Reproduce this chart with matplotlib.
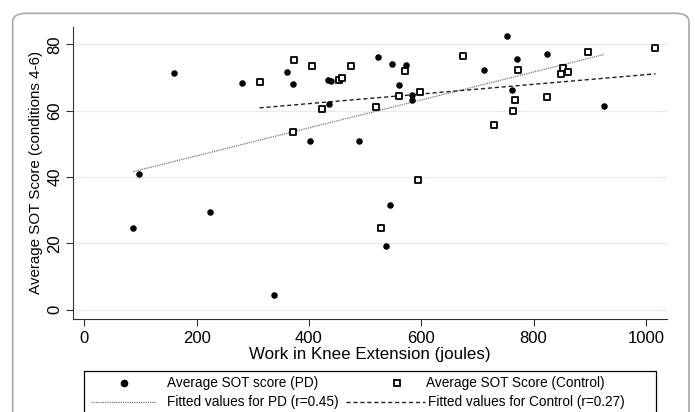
import numpy as np
import matplotlib
matplotlib.use("Agg")
import matplotlib.pyplot as plt
from matplotlib.patches import FancyBboxPatch, Rectangle
from matplotlib.lines import Line2D

plt.rcParams["font.family"] = ["Liberation Sans", "DejaVu Sans"]

# ------------------------------------------------------------
# Data
# ------------------------------------------------------------
pd_work = [87, 97, 159, 224, 281, 338, 361, 371, 402, 434, 440, 436,
           523, 547, 573, 560, 583, 584, 490, 544, 537, 712, 752, 771,
           761, 824, 925]
pd_sot = [24.6, 40.9, 71.3, 29.5, 68.3, 4.3, 71.7, 68.0, 50.9, 69.2, 68.9, 61.9,
          76.3, 74.2, 73.8, 67.8, 64.7, 63.2, 50.8, 31.6, 19.3, 72.1, 82.4, 75.5,
          66.1, 77.0, 61.3]

ctrl_work = [312, 374, 405, 372, 424, 453, 458, 474, 519, 528, 571, 560,
             597, 595, 675, 729, 773, 766, 764, 823, 852, 849, 861, 896, 1017]
ctrl_sot = [68.6, 75.2, 73.6, 53.7, 60.5, 69.2, 69.8, 73.6, 61.1, 24.6, 71.8, 64.3,
            65.6, 39.0, 76.5, 55.8, 72.3, 63.3, 60.0, 64.2, 73.0, 70.9, 71.7, 77.8, 79.0]

x_ticks = [0, 200, 400, 600, 800, 1000]
y_ticks = [0, 20, 40, 60, 80]

label_pd = "Average SOT score (PD)"
label_ctrl = "Average SOT Score (Control)"
label_fit_pd = "Fitted values for PD (r=0.45)"
label_fit_ctrl = "Fitted values for Control (r=0.27)"

PD_FIT_STYLE = dict(color="#777777", linewidth=0.9, linestyle=(0, (1, 0.8)))
CTRL_FIT_STYLE = dict(color="#222222", linewidth=1.0, linestyle=(0, (3, 2)))


def fitted(x, y):
    x = np.asarray(x, dtype=float)
    b, a = np.polyfit(x, np.asarray(y, dtype=float), 1)
    xs = np.array([x.min(), x.max()])
    return xs, a + b * xs


W, H = 695, 412
fig = plt.figure(figsize=(W / 100, H / 100), dpi=100)


def fx(x):
    return x / W


def fy(y):
    return 1 - y / H


# outer rounded frame
frame = FancyBboxPatch((fx(12.7), -0.05), fx(689 - 12.7), (H - 13.3) / H + 0.05,
                       boxstyle="round,pad=0,rounding_size=0.02",
                       transform=fig.transFigure, facecolor="none",
                       edgecolor="#a8a8a8", linewidth=1.2)
fig.patches.append(frame)

ax = fig.add_axes([fx(73.3), fy(319), fx(666.7 - 73.3), (319 - 26.7) / H])
ax.set_xlim(-19.6, 1037)
ax.set_ylim(-2.8, 85.3)

for yv in y_ticks:
    ax.axhline(yv, color="#cde4ea", linewidth=0.9, linestyle=(0, (1, 0.6)), zorder=0)

pd_fx, pd_fy = fitted(pd_work, pd_sot)
ct_fx, ct_fy = fitted(ctrl_work, ctrl_sot)

ax.scatter(pd_work, pd_sot, s=22, c="black", marker="o", linewidths=0, zorder=3)
ax.scatter(ctrl_work, ctrl_sot, s=22, facecolors="white", edgecolors="black",
           marker="s", linewidths=1.3, zorder=3)
ax.plot(pd_fx, pd_fy, zorder=2, **PD_FIT_STYLE)
ax.plot(ct_fx, ct_fy, zorder=2, **CTRL_FIT_STYLE)

ax.set_xticks(x_ticks)
ax.set_yticks(y_ticks)
ax.tick_params(axis="both", direction="out", length=5, width=0.8, labelsize=12,
               color="#333333")
ax.tick_params(axis="y", labelrotation=90, pad=3)
for lab in ax.get_yticklabels():
    lab.set_va("center")
ax.spines["top"].set_visible(False)
ax.spines["right"].set_visible(False)
ax.spines["left"].set_color("#333333")
ax.spines["bottom"].set_color("#333333")

ax.set_xlabel("Work in Knee Extension (joules)", fontsize=12.2, labelpad=1)
ax.set_ylabel("Average SOT Score (conditions 4-6)", fontsize=10.9, labelpad=3)

# ------------------------------------------------------------
# Legend box (drawn by hand to match the Stata layout)
# ------------------------------------------------------------
fig.patches.append(Rectangle((fx(84.3), -0.05), fx(655.7 - 84.3), fy(370.7) + 0.05,
                             transform=fig.transFigure, facecolor="white",
                             edgecolor="black", linewidth=0.9))
row1, row2 = 383.3, 401.7
fig.add_artist(Line2D([fx(124)], [fy(row1)], marker="o", markersize=4.5,
                      color="black", linestyle="none", transform=fig.transFigure))
fig.add_artist(Line2D([fx(397.3)], [fy(row1)], marker="s", markersize=4.2,
                      markerfacecolor="white", markeredgecolor="black",
                      markeredgewidth=1.3, linestyle="none", transform=fig.transFigure))
fig.add_artist(Line2D([fx(90.7), fx(156)], [fy(row2), fy(row2)],
                      transform=fig.transFigure, **PD_FIT_STYLE))
fig.add_artist(Line2D([fx(346), fx(425)], [fy(row2), fy(row2)],
                      transform=fig.transFigure, **CTRL_FIT_STYLE))
for x, y, txt in [(166.7, row1, label_pd), (166.7, row2, label_fit_pd),
                  (426, row1, label_ctrl), (428.5, row2, label_fit_ctrl)]:
    fig.text(fx(x), fy(y), txt, fontsize=9.8, ha="left", va="center")

fig.savefig("out.png", dpi=100)
